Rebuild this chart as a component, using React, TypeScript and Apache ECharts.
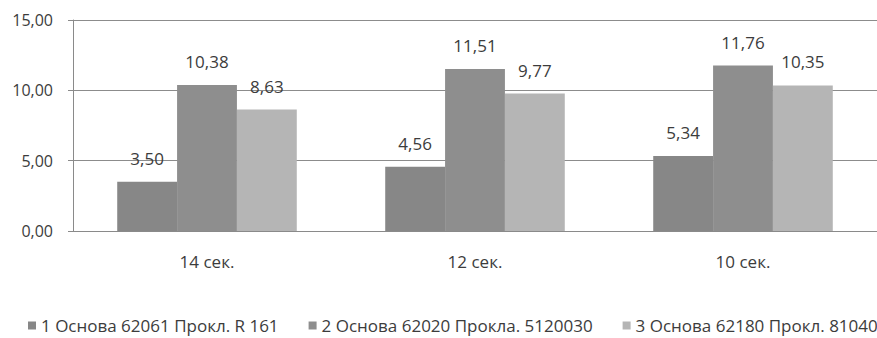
import React, { useEffect, useRef } from "react";
import * as echarts from "echarts";

const categories = ["14 сек.", "12 сек.", "10 сек."];
const seriesNames = [
  "1 Основа 62061 Прокл. R 161",
  "2 Основа 62020 Прокла. 5120030",
  "3 Основа 62180 Прокл. 81040",
];
const series1 = [3.5, 4.56, 5.34];
const series2 = [10.38, 11.51, 11.76];
const series3 = [8.63, 9.77, 10.35];
const colors = ["#878787", "#8e8e8e", "#b5b5b5"];

const FONT = "Open Sans, sans-serif";
const TEXT = "#3c3c3c";
const fmt = (v: number) => v.toFixed(2).replace(".", ",");

export default function App() {
  const ref = useRef<HTMLDivElement>(null);
  useEffect(() => {
    if (!ref.current) return;
    const chart = echarts.init(ref.current, undefined, { renderer: "svg" });
    const data = [series1, series2, series3];
    chart.setOption({
      animation: false,
      textStyle: { fontFamily: FONT },
      grid: { left: 73, top: 20, width: 816, height: 211 },
      legend: {
        left: 28,
        top: 317,
        padding: 0,
        width: 1400,
        itemWidth: 8,
        itemHeight: 8,
        itemGap: 30,
        icon: "rect",
        textStyle: { fontFamily: FONT, fontSize: 17, color: TEXT },
        data: seriesNames,
      },
      xAxis: {
        type: "category",
        data: categories,
        axisLine: { lineStyle: { color: "#8a8a8a", width: 1 } },
        axisTick: { length: 5, lineStyle: { color: "#8a8a8a" } },
        axisLabel: { margin: 22, fontSize: 17, color: TEXT, fontFamily: FONT },
      },
      yAxis: {
        type: "value",
        min: 0,
        max: 15,
        interval: 5,
        axisLine: { show: true, lineStyle: { color: "#8a8a8a" } },
        axisTick: { show: true, length: 5, lineStyle: { color: "#8a8a8a" } },
        splitLine: { lineStyle: { color: "#8c8c8c", width: 1 } },
        axisLabel: {
          margin: 20,
          fontSize: 16,
          color: TEXT,
          fontFamily: FONT,
          formatter: (v: number) => fmt(v),
        },
      },
      series: data.map((d, i) => ({
        name: seriesNames[i],
        type: "bar",
        data: d,
        barGap: "0%",
        barCategoryGap: "33%",
        itemStyle: { color: colors[i] },
        label: {
          show: true,
          position: "top",
          distance: 15,
          fontSize: 17,
          color: TEXT,
          fontFamily: FONT,
          formatter: (p: any) => fmt(p.value),
        },
      })),
    });
    return () => chart.dispose();
  }, []);
  return (
    <div
      ref={ref}
      style={{ position: "absolute", left: 0, top: 0, width: 877, height: 338, background: "#fff" }}
    />
  );
}
